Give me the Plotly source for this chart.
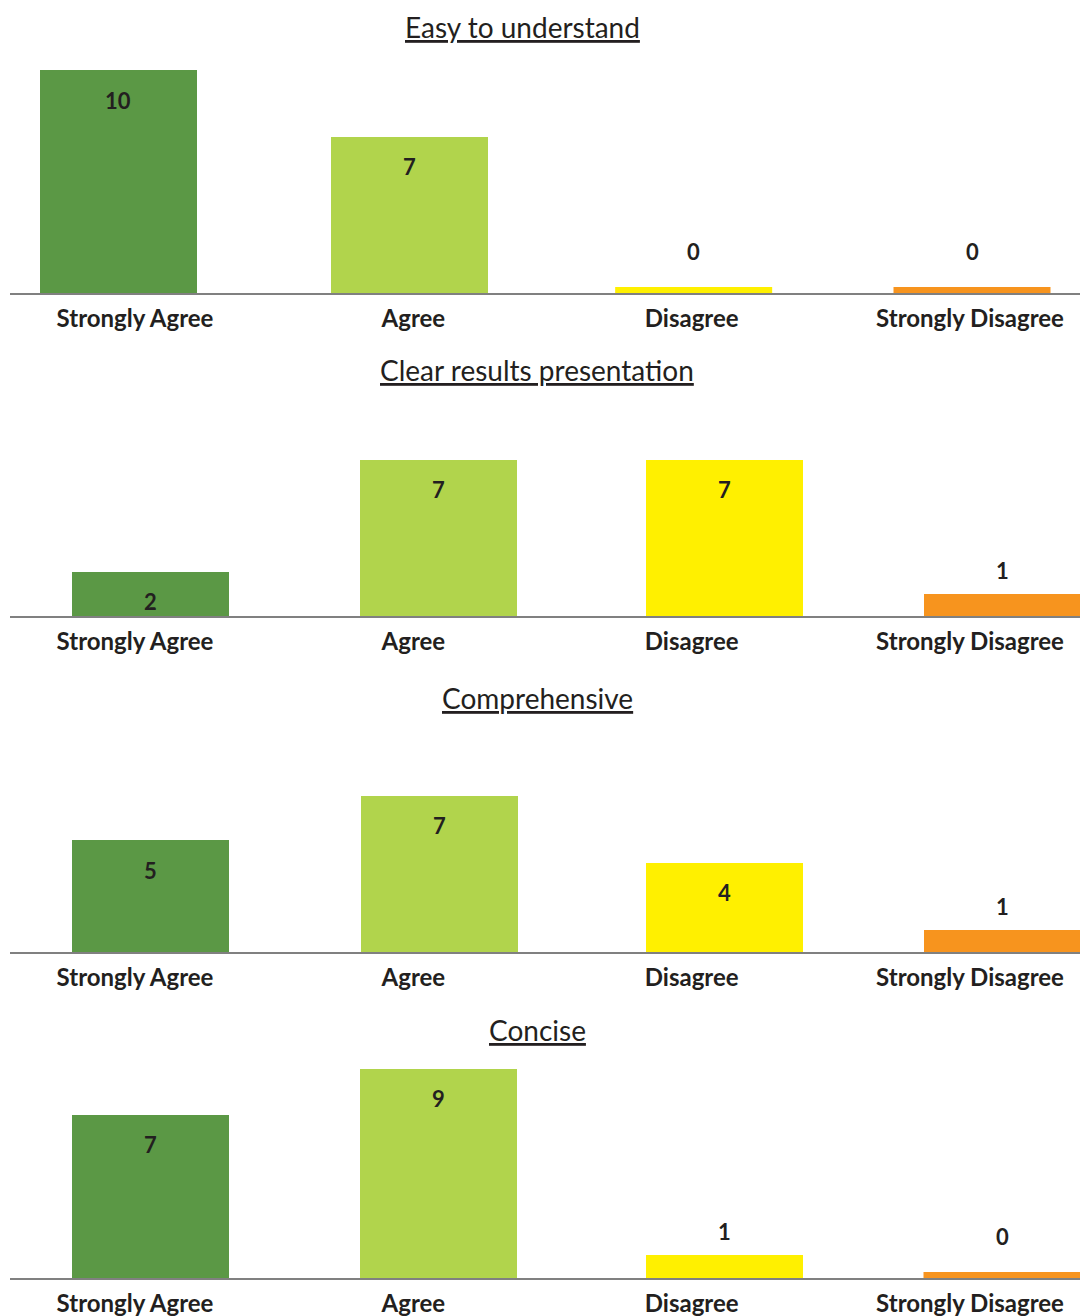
import plotly.graph_objects as go

# Survey responses, one panel per question
categories = ["Strongly Agree", "Agree", "Disagree", "Strongly Disagree"]
titles = ["Easy to understand", "Clear results presentation", "Comprehensive", "Concise"]
easy_to_understand = [10, 7, 0, 0]
clear_results = [2, 7, 7, 1]
comprehensive = [5, 7, 4, 1]
concise = [7, 9, 1, 0]
panel_values = [easy_to_understand, clear_results, comprehensive, concise]

bar_colors = ["#5B9845", "#B1D44C", "#FFF000", "#F7941E"]
text_color = "#231F20"

W, H = 1080, 1316
# Panel geometry in pixels: baseline, pixels per response, title centre (x, y)
baselines = [293, 616, 952, 1278]
px_per_unit = [22.3, 22.3, 22.4, 23.3]
title_pos = [(522, 27), (537, 370), (537, 698), (537, 1030)]
# Horizontal nudge of each bar away from its category label, in pixels
bar_shift_px = [
    [-17, -4, 2, 2],
    [15, 25, 33, 32],
    [15, 26, 33, 32],
    [15, 25, 33, 32],
]
Y_MAX = 11.0

# Shared horizontal scale: category 0 at x=135, category 3 at x=970
x_left_px = 10
unit_px = (970 - 135) / 3.0
x_range = [(x_left_px - 135) / unit_px, (W - 135) / unit_px]
bar_width = 157 / unit_px

font_family = "Lato, 'Open Sans', sans-serif"

fig = go.Figure()
annotations = []
shapes = []

for i, (vals, title) in enumerate(zip(panel_values, titles)):
    n = i + 1
    xa = "x" if n == 1 else f"x{n}"
    ya = "y" if n == 1 else f"y{n}"
    base_px = baselines[i]
    top_px = base_px - Y_MAX * px_per_unit[i]
    shifts = [s / unit_px for s in bar_shift_px[i]]

    fig.add_trace(go.Bar(
        x=categories, y=vals, xaxis=xa, yaxis=ya,
        marker=dict(color=bar_colors, line=dict(width=0)),
        width=bar_width, offset=[-bar_width / 2 + s for s in shifts],
        hoverinfo="skip", showlegend=False,
    ))

    xkey = "xaxis" if n == 1 else f"xaxis{n}"
    ykey = "yaxis" if n == 1 else f"yaxis{n}"
    fig.update_layout(**{
        xkey: dict(
            domain=[x_left_px / W, 1], anchor=ya, type="category",
            categoryorder="array", categoryarray=categories,
            range=x_range, showline=True, linecolor="#808080", linewidth=2,
            showgrid=False, zeroline=False, ticks="", fixedrange=True,
            ticklabelstandoff=3,
            tickfont=dict(family=font_family, size=24, color=text_color, weight=700),
        ),
        ykey: dict(
            domain=[1 - base_px / H, 1 - top_px / H], anchor=xa,
            range=[0, Y_MAX], showgrid=False, zeroline=False,
            showticklabels=False, showline=False, ticks="", fixedrange=True,
        ),
    })

    # Underlined panel title
    tx, ty = title_pos[i]
    annotations.append(dict(
        text=f"<u>{title}</u>", xref="paper", yref="paper",
        x=tx / W, y=1 - ty / H, xanchor="center", yanchor="middle",
        showarrow=False,
        font=dict(family=font_family, size=28, color=text_color),
    ))

    for j, v in enumerate(vals):
        if v == 0:
            # zero responses drawn as a thin stub on the baseline
            shapes.append(dict(
                type="rect", xref=xa, yref=ya,
                x0=j - bar_width / 2 + shifts[j], x1=j + bar_width / 2 + shifts[j],
                ysizemode="pixel", yanchor=0, y0=0, y1=6,
                fillcolor=bar_colors[j], line=dict(width=0), layer="below",
            ))
            yshift = 42
        elif v >= 2:
            yshift = -30
        else:
            yshift = 23
        annotations.append(dict(
            text=f"<b>{v}</b>", xref=xa, yref=ya, x=categories[j], y=v,
            xshift=bar_shift_px[i][j], yshift=yshift,
            xanchor="center", yanchor="middle", showarrow=False,
            font=dict(family=font_family, size=22, color=text_color),
        ))

fig.update_layout(
    width=W, height=H,
    margin=dict(l=0, r=0, t=0, b=0),
    paper_bgcolor="white", plot_bgcolor="white",
    bargap=0, annotations=annotations, shapes=shapes,
)

fig.write_html("out.html")
